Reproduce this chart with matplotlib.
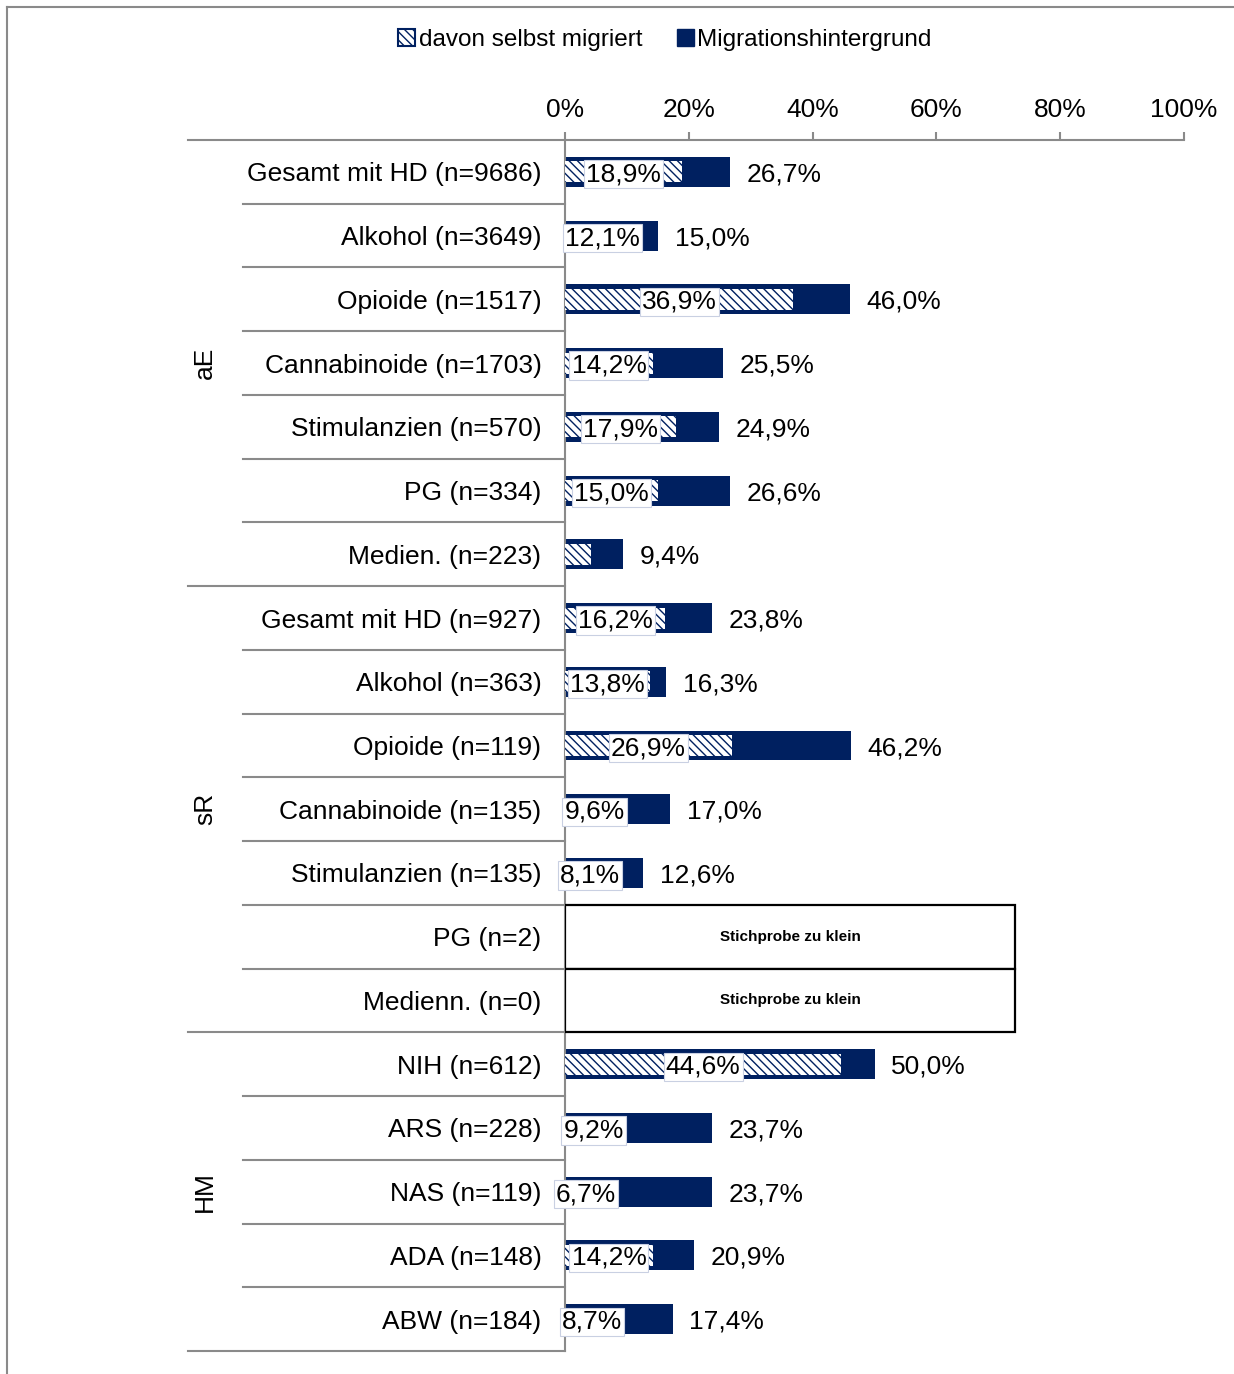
import matplotlib
matplotlib.use("Agg")
from matplotlib import pyplot as plt
from matplotlib import transforms
from matplotlib.patches import Patch, Rectangle
from matplotlib.lines import Line2D

# Schrift wie im Original (Arial-artig)
plt.rcParams['font.family'] = ['Liberation Sans', 'DejaVu Sans']
plt.rcParams['hatch.linewidth'] = 1.0

# Daten
gruppen = ["aE", "sR", "HM"]
gruppen_groesse = [7, 7, 5]
kategorien = [
    "Gesamt mit HD (n=9686)", "Alkohol (n=3649)", "Opioide (n=1517)",
    "Cannabinoide (n=1703)", "Stimulanzien (n=570)", "PG (n=334)",
    "Medien. (n=223)",
    "Gesamt mit HD (n=927)", "Alkohol (n=363)", "Opioide (n=119)",
    "Cannabinoide (n=135)", "Stimulanzien (n=135)", "PG (n=2)",
    "Medienn. (n=0)",
    "NIH (n=612)", "ARS (n=228)", "NAS (n=119)", "ADA (n=148)", "ABW (n=184)",
]
migrationshintergrund = [26.7, 15.0, 46.0, 25.5, 24.9, 26.6, 9.4,
                         23.8, 16.3, 46.2, 17.0, 12.6, None, None,
                         50.0, 23.7, 23.7, 20.9, 17.4]
selbst_migriert = [18.9, 12.1, 36.9, 14.2, 17.9, 15.0, 4.2,
                   16.2, 13.8, 26.9, 9.6, 8.1, None, None,
                   44.6, 9.2, 6.7, 14.2, 8.7]

NAVY = '#002060'
GRAU = '#8a8a8a'


def fmt(v):
    return ("%.1f" % v).replace('.', ',') + '%'


fig = plt.figure(figsize=(12.34, 13.74), dpi=100)
ax = fig.add_axes([565 / 1234, 23 / 1374, 619 / 1234, 1211 / 1374])

n = len(kategorien)
ys = list(range(n))

for i in ys:
    g = migrationshintergrund[i]
    s = selbst_migriert[i]
    if g is None:
        # Stichprobe zu klein
        ax.add_patch(Rectangle((0, i - 0.5), 72.7, 1, facecolor='white',
                               edgecolor='black', lw=1.6, zorder=3))
        ax.text(72.7 / 2, i, "Stichprobe zu klein", ha='center', va='center',
                fontsize=11, fontweight='bold', zorder=4)
        continue
    ax.barh(i, g, height=0.47, color=NAVY, zorder=2)
    ax.barh(i, s, height=0.33, facecolor='white', edgecolor=NAVY,
            hatch='\\\\\\\\', lw=0, zorder=3)
    ax.annotate(fmt(g), (g, i), xytext=(12, 0), textcoords='offset points',
                ha='left', va='center_baseline', fontsize=19)
    if s >= 5:
        ax.text(s / 2, i, fmt(s), ha='center', va='center_baseline',
                fontsize=19, zorder=5,
                bbox=dict(boxstyle='square,pad=0.08', facecolor='white',
                          edgecolor='#c9d0e2', lw=0.8))

ax.set_xlim(0, 100)
ax.set_ylim(n - 0.5, -0.5)

ax.xaxis.tick_top()
ax.set_xticks(range(0, 101, 20))
ax.set_xticklabels(["%d%%" % t for t in range(0, 101, 20)], fontsize=19)
ax.tick_params(axis='x', length=6, width=1.5, color=GRAU, pad=7)

ax.set_yticks(ys)
ax.set_yticklabels(kategorien, fontsize=19)
ax.tick_params(axis='y', length=0, pad=17)

for sp in ['right', 'bottom']:
    ax.spines[sp].set_visible(False)
for sp in ['top', 'left']:
    ax.spines[sp].set_color(GRAU)
    ax.spines[sp].set_linewidth(1.5)

# Trennlinien links neben der Achse
trans = transforms.blended_transform_factory(fig.transFigure, ax.transData)
grenzen = [-0.5]
for gs in gruppen_groesse:
    grenzen.append(grenzen[-1] + gs)
for k in range(n + 1):
    y = k - 0.5
    x0 = 188 / 1234 if y in grenzen else 243 / 1234
    ax.add_line(Line2D([x0, 565 / 1234], [y, y], transform=trans,
                       color=GRAU, lw=1.5, clip_on=False))

# Gruppenbeschriftung
for k, name in enumerate(gruppen):
    mitte = (grenzen[k] + grenzen[k + 1]) / 2
    ax.text(205 / 1234, mitte, name, transform=trans, rotation=90,
            ha='center', va='center', fontsize=19)

# Legende
handles = [Patch(facecolor='white', edgecolor=NAVY, hatch='\\\\\\\\', lw=1.5),
           Patch(facecolor=NAVY, edgecolor=NAVY)]
fig.legend(handles, ["davon selbst migriert", "Migrationshintergrund"],
           loc='center', bbox_to_anchor=(665 / 1234, 1 - 40 / 1374), ncol=2,
           frameon=False, fontsize=17.5, handlelength=0.7, handleheight=0.7,
           handletextpad=0.15, columnspacing=1.4)

# Rahmen oben und links
fig.add_artist(Line2D([7 / 1234, 1], [1 - 7 / 1374, 1 - 7 / 1374],
                      transform=fig.transFigure, color=GRAU, lw=1.5))
fig.add_artist(Line2D([7 / 1234, 7 / 1234], [0, 1 - 7 / 1374],
                      transform=fig.transFigure, color=GRAU, lw=1.5))

fig.savefig("out.png", dpi=100)
